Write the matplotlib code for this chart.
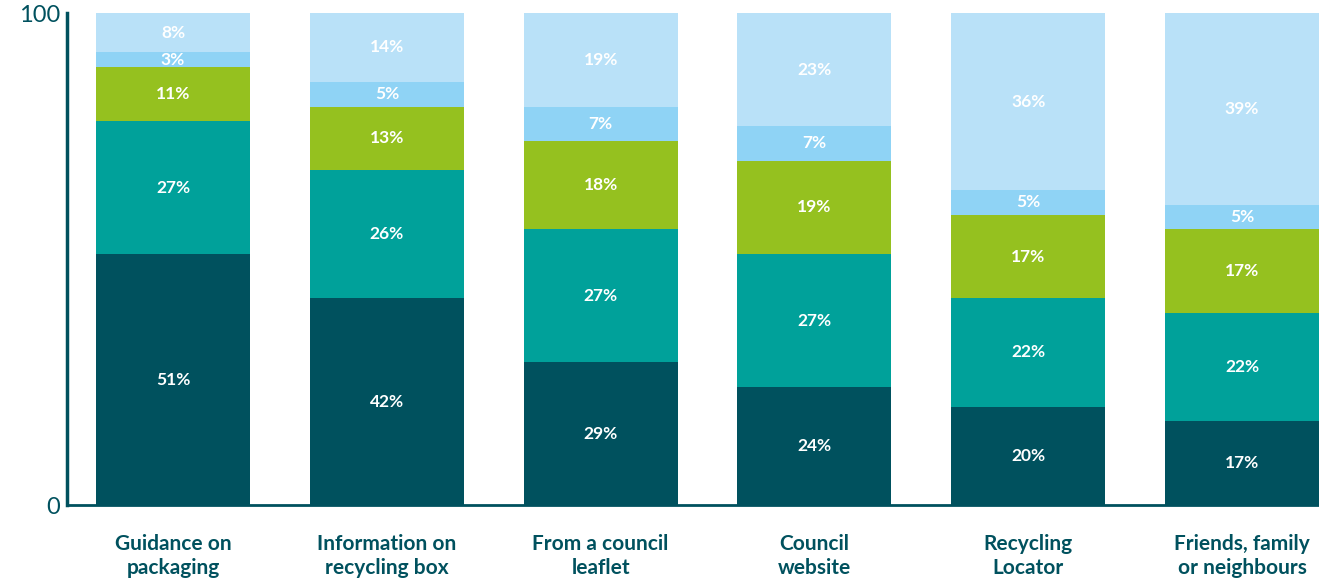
import matplotlib
matplotlib.use("Agg")
from matplotlib import pyplot as plt
import numpy as np

plt.rcParams['font.family'] = ['Lato', 'DejaVu Sans']

categories = ["Guidance on\npackaging", "Information on\nrecycling box", "From a council\nleaflet",
              "Council\nwebsite", "Recycling\nLocator", "Friends, family\nor neighbours"]

# stacked from the bottom up
seg1 = [51, 42, 29, 24, 20, 17]
seg2 = [27, 26, 27, 27, 22, 22]
seg3 = [11, 13, 18, 19, 17, 17]
seg4 = [3, 5, 7, 7, 5, 5]
seg5 = [8, 14, 19, 23, 36, 39]

series = [seg1, seg2, seg3, seg4, seg5]
colors = ["#00515E", "#00A19A", "#95C11F", "#8FD3F5", "#B9E1F8"]
axis_color = "#00515E"

fig = plt.figure(figsize=(13.19, 5.79), dpi=100)
ax = fig.add_axes([0.0508, 0.1278, 0.9492, 0.8497])

x = np.arange(len(categories))
bottom = np.zeros(len(categories))
for vals, col in zip(series, colors):
    vals = np.array(vals, dtype=float)
    ax.bar(x, vals, bottom=bottom, width=0.72, color=col, linewidth=0)
    for xi, b, v in zip(x, bottom, vals):
        ax.text(xi, b + v / 2, f"{int(v)}%", ha="center", va="center",
                color="white", fontsize=12.5, fontweight="bold")
    bottom += vals

ax.set_xlim(-0.496, 5.36)
ax.set_ylim(0, 100)
ax.set_yticks([0, 100])
ax.set_yticklabels(["0", "100"])
ax.tick_params(axis="y", length=0, labelsize=17, labelcolor=axis_color, pad=5)
ax.set_xticks(x)
ax.set_xticklabels(categories, fontsize=15, fontweight="bold", color=axis_color,
                   linespacing=1.22)
ax.tick_params(axis="x", length=0, pad=21)

for s in ["top", "right"]:
    ax.spines[s].set_visible(False)
ax.spines["left"].set_color(axis_color)
ax.spines["left"].set_linewidth(2.5)
ax.spines["bottom"].set_color(axis_color)
ax.spines["bottom"].set_linewidth(2)

fig.savefig("out.png", dpi=100)
